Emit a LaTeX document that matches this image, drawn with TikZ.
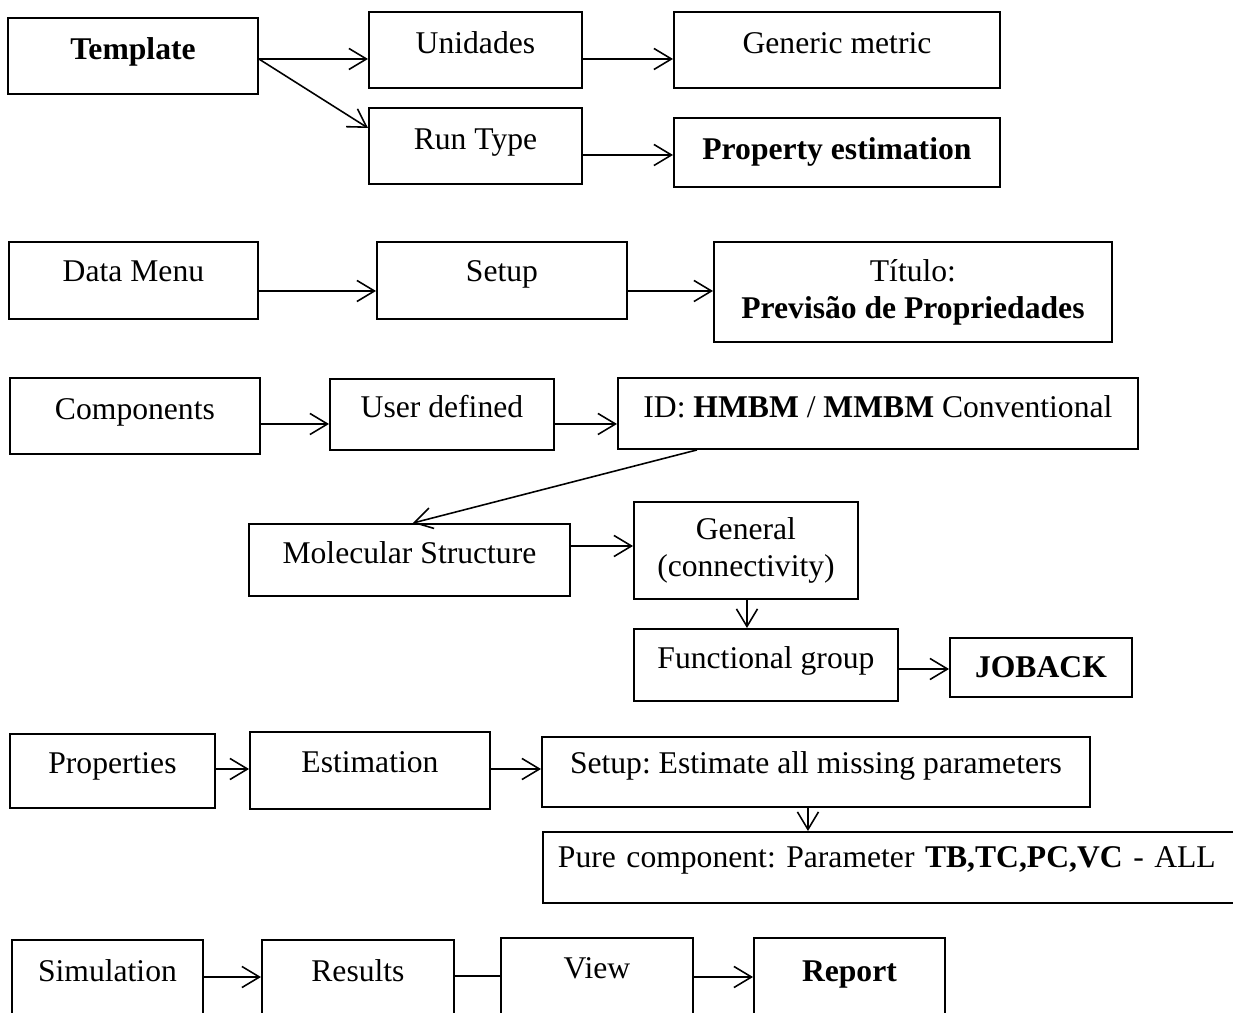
\documentclass[tikz,border=0pt]{standalone}
\usepackage{fontspec}
\setmainfont{Liberation Serif}
\usetikzlibrary{arrows.meta}
\frenchspacing

\begin{document}
\begin{tikzpicture}[x=0.02cm, y=-0.02cm,
  font=\fontsize{18}{21}\selectfont,
  box/.style={draw, line width=1.1pt, anchor=north west, inner sep=0pt},
  arr/.style={line width=0.9pt, -{Straight Barb[length=10pt,width=12pt]}},
  link/.style={line width=0.9pt}]
  \useasboundingbox (0,0) rectangle (1233,1013);
  \clip (0,0) rectangle (1233,1013);

  \node[box, minimum width=5cm, text height=.84cm, text depth=.68cm] (tmpl) at (7,17) {\textbf{Template}};
  \node[box, minimum width=4.26cm, text height=.84cm, text depth=.68cm] (unid) at (368,11) {Unidades};
  \node[box, minimum width=6.52cm, text height=.84cm, text depth=.68cm] (gen) at (673,11) {Generic metric};
  \node[box, minimum width=4.26cm, text height=.84cm, text depth=.68cm] (runtype) at (368,107) {Run Type};
  \node[box, minimum width=6.52cm, text height=.84cm, text depth=.54cm] (propest) at (673,117) {\textbf{Property estimation}};

  \node[box, minimum width=4.98cm, text height=.8cm, text depth=.74cm] (dmenu) at (8,241) {Data Menu};
  \node[box, minimum width=5cm, text height=.8cm, text depth=.74cm] (setup) at (376,241) {Setup};
  \node[box, minimum width=7.96cm, minimum height=2cm, align=center] (titulo) at (713,241) {Título:\\\textbf{Previsão de Propriedades}};

  \node[box, minimum width=5cm, text height=.84cm, text depth=.68cm] (comp) at (9,377) {Components};
  \node[box, minimum width=4.48cm, text height=.78cm, text depth=.64cm] (userdef) at (329,378) {User defined};
  \node[box, minimum width=10.4cm, text height=.8cm, text depth=.62cm] (ident) at (617,377) {ID: \textbf{HMBM} / \textbf{MMBM} Conventional};
  \node[box, minimum width=6.42cm, text height=.8cm, text depth=.64cm] (molstr) at (248,523) {Molecular Structure};
  \node[box, minimum width=4.48cm, minimum height=1.94cm, align=center] (general) at (633,501) {General\\(connectivity)};
  \node[box, minimum width=5.28cm, text height=.8cm, text depth=.64cm] (funcgrp) at (633,628) {Functional group};
  \node[box, minimum width=3.64cm, text height=.8cm, text depth=.38cm] (joback) at (949,637) {\textbf{JOBACK}};

  \node[box, minimum width=4.1cm, text height=.8cm, text depth=.68cm] (props) at (9,733) {Properties};
  \node[box, minimum width=4.8cm, text height=.82cm, text depth=.72cm] (estim) at (249,731) {Estimation};
  \node[box, minimum width=10.96cm, text height=.74cm, text depth=.66cm] (setest) at (541,736) {Setup: Estimate all missing parameters};
  \node[box, inner xsep=.3cm, text width=13.76cm, align=left, text height=.72cm, text depth=.7cm] (pure) at (542,831) {Pure component: Parameter \textbf{TB,TC,PC,VC} - ALL};

  \node[box, minimum width=3.82cm, text height=.84cm, text depth=1.18cm] (sim) at (11,939) {Simulation};
  \node[box, minimum width=3.84cm, text height=.84cm, text depth=1.18cm] (results) at (261,939) {Results};
  \node[box, minimum width=3.84cm, text height=.82cm, text depth=1.24cm] (view) at (500,937) {View};
  \node[box, minimum width=3.82cm, text height=.88cm, text depth=1.18cm] (report) at (753,937) {\textbf{Report}};

  \draw[arr] ([yshift=-.84cm]tmpl.north east) coordinate (p) -- (p -| unid.west);
  \draw[arr] (p) -- ([yshift=-.42cm]runtype.north west);
  \draw[arr] ([yshift=-.96cm]unid.north east) coordinate (p) -- (p -| gen.west);
  \draw[arr] ([yshift=-.96cm]runtype.north east) coordinate (p) -- (p -| propest.west);
  \draw[arr] ([yshift=-1cm]dmenu.north east) coordinate (p) -- (p -| setup.west);
  \draw[arr] ([yshift=-1cm]setup.north east) coordinate (p) -- (p -| titulo.west);
  \draw[arr] ([yshift=-.94cm]comp.north east) coordinate (p) -- (p -| userdef.west);
  \draw[arr] ([yshift=-.92cm]userdef.north east) coordinate (p) -- (p -| ident.west);
  \draw[arr] ([xshift=1.6cm]ident.south west) -- ([xshift=3.3cm]molstr.north west);
  \draw[arr] ([yshift=-.46cm]molstr.north east) coordinate (p) -- (p -| general.west);
  \draw[arr] ([xshift=2.28cm]general.south west) coordinate (p) -- (p |- funcgrp.north);
  \draw[arr] ([yshift=-.82cm]funcgrp.north east) coordinate (p) -- (p -| joback.west);
  \draw[arr] ([yshift=-.72cm]props.north east) coordinate (p) -- (p -| estim.west);
  \draw[arr] ([yshift=-.76cm]estim.north east) coordinate (p) -- (p -| setest.west);
  \draw[arr] ([xshift=5.34cm]setest.south west) coordinate (p) -- (p |- pure.north);
  \draw[arr] ([yshift=-.76cm]sim.north east) coordinate (p) -- (p -| results.west);
  \draw[link] ([yshift=-.74cm]results.north east) coordinate (p) -- (p -| view.west);
  \draw[arr] ([yshift=-.8cm]view.north east) coordinate (p) -- (p -| report.west);
\end{tikzpicture}
\end{document}
